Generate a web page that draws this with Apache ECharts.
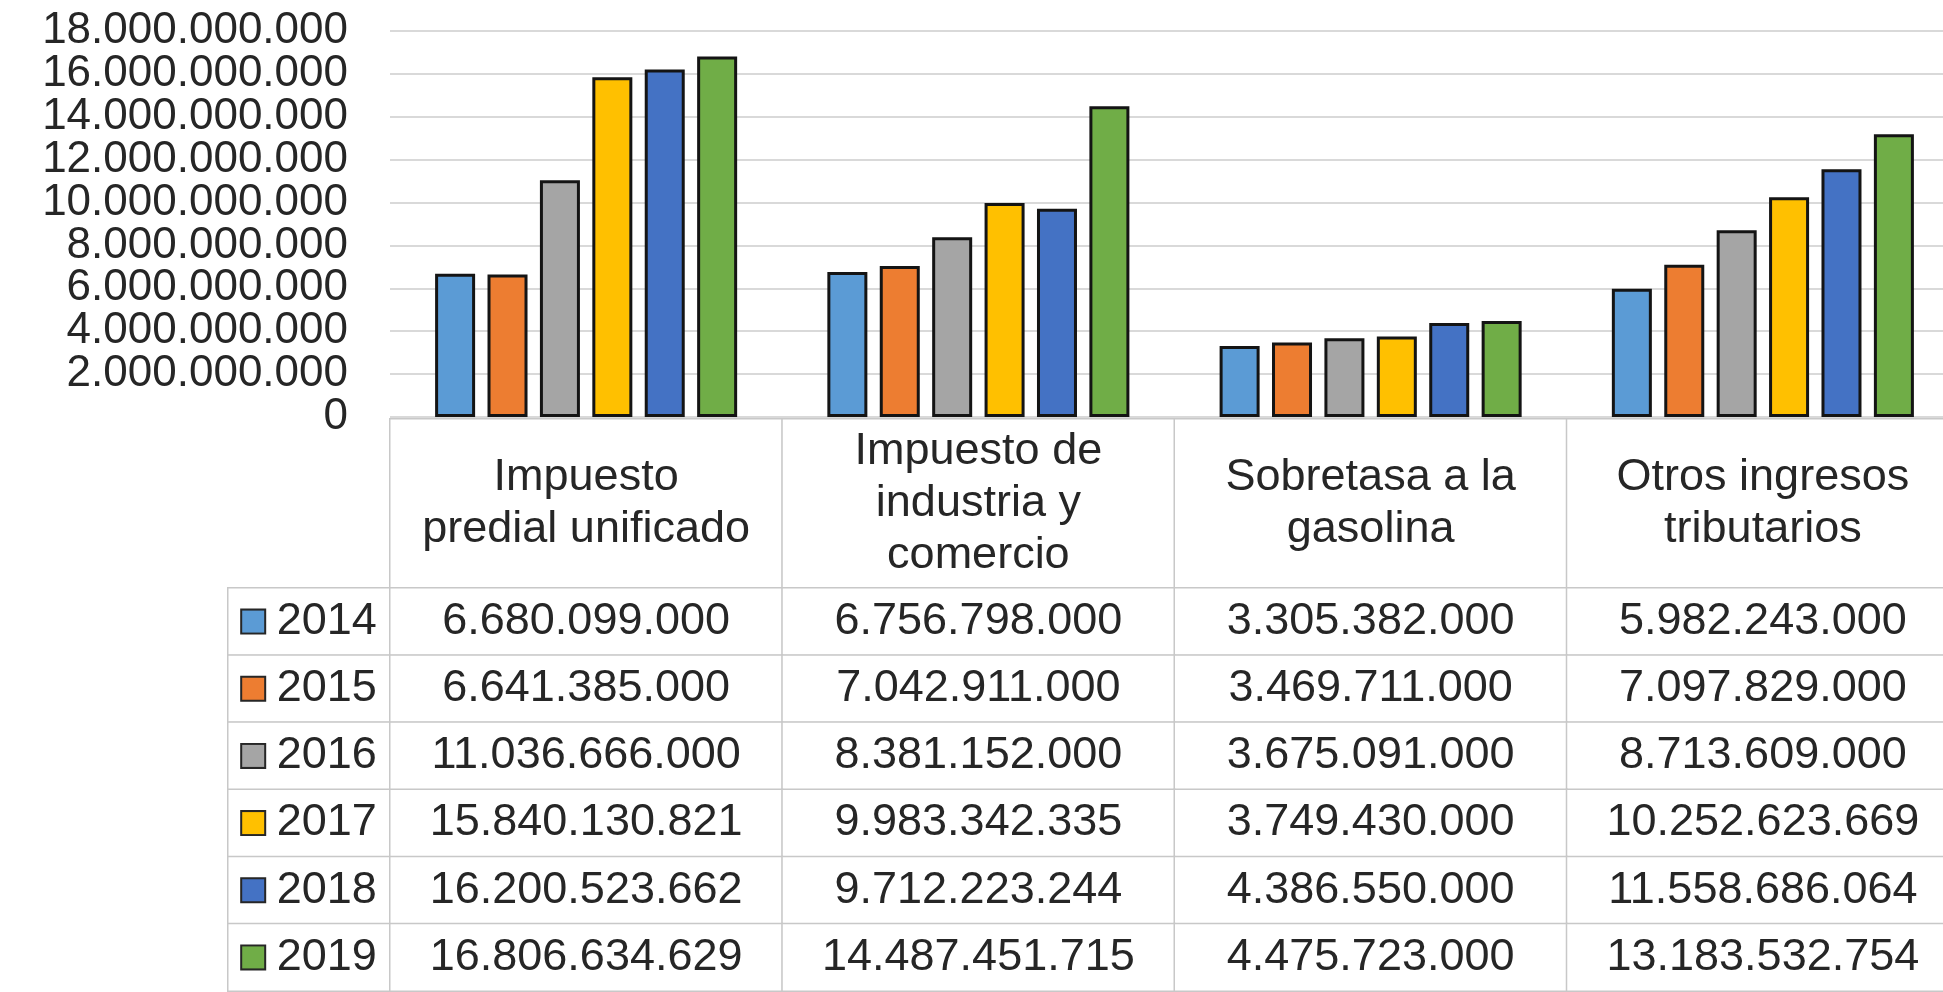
<!DOCTYPE html>
<html>
<head>
<meta charset="utf-8">
<script src="https://cdn.jsdelivr.net/npm/echarts@6/dist/echarts.min.js"></script>
<style>
  html, body { margin: 0; padding: 0; background: #fff; }
  #main { width: 1943px; height: 992px; }
</style>
</head>
<body>
<div id="main"></div>
<script>
// categorias (con saltos de linea como en la tabla de Excel)
var categories = ['Impuesto\npredial unificado', 'Impuesto de\nindustria y\ncomercio', 'Sobretasa a la\ngasolina', 'Otros ingresos\ntributarios'];
var years = ['2014', '2015', '2016', '2017', '2018', '2019'];
var colors = ['#5B9BD5', '#ED7D31', '#A5A5A5', '#FFC000', '#4472C4', '#70AD47'];

var v2014 = [6680099000, 6756798000, 3305382000, 5982243000];
var v2015 = [6641385000, 7042911000, 3469711000, 7097829000];
var v2016 = [11036666000, 8381152000, 3675091000, 8713609000];
var v2017 = [15840130821, 9983342335, 3749430000, 10252623669];
var v2018 = [16200523662, 9712223244, 4386550000, 11558686064];
var v2019 = [16806634629, 14487451715, 4475723000, 13183532754];
var values = [v2014, v2015, v2016, v2017, v2018, v2019];

// etiquetas del eje Y (de abajo hacia arriba)
var yTickLabels = ['0', '2.000.000.000', '4.000.000.000', '6.000.000.000', '8.000.000.000',
    '10.000.000.000', '12.000.000.000', '14.000.000.000', '16.000.000.000', '18.000.000.000'];
var yMax = 18000000000;
var yStep = 2000000000;

var font = 'Liberation Sans, Arial, sans-serif';
var textColor = '#262626';
var lineColor = '#c8c8c8';

function fmt(v) {
    return String(v).replace(/\B(?=(\d{3})+(?!\d))/g, '.');
}

var chart = echarts.init(document.getElementById('main'));

// series de barras
var series = [];
for (var j = 0; j < years.length; j++) {
    series.push({
        type: 'bar',
        name: years[j],
        xAxisIndex: 0,
        yAxisIndex: 0,
        data: values[j],
        barGap: '31%',
        barCategoryGap: '23%',
        itemStyle: {color: colors[j], borderColor: '#141414', borderWidth: 3},
        silent: true
    });
}

// encabezado de la tabla
series.push({
    type: 'heatmap',
    xAxisIndex: 1,
    yAxisIndex: 1,
    data: categories.map(function (c, i) { return [i, 0, i]; }),
    itemStyle: {color: '#fff', borderColor: lineColor, borderWidth: 1.5},
    label: {
        show: true,
        formatter: function (p) { return categories[p.value[0]]; },
        fontSize: 45,
        lineHeight: 52,
        color: textColor,
        fontFamily: font
    },
    silent: true
});

// columna de leyenda
var rich = {t: {fontSize: 45, color: textColor, fontFamily: font}};
for (var j = 0; j < years.length; j++) {
    rich['s' + j] = {width: 22, height: 22, backgroundColor: colors[j], borderColor: '#262626', borderWidth: 2};
}
series.push({
    type: 'heatmap',
    xAxisIndex: 2,
    yAxisIndex: 2,
    data: years.map(function (y, j) { return [0, j, j]; }),
    itemStyle: {color: '#fff', borderColor: lineColor, borderWidth: 1.5},
    label: {
        show: true,
        fontSize: 45,
        fontFamily: font,
        formatter: function (p) { return '{s' + p.value[1] + '|} {t|' + years[p.value[1]] + '}'; },
        rich: rich
    },
    silent: true
});

// valores de la tabla
var cells = [];
for (var j = 0; j < years.length; j++) {
    for (var i = 0; i < categories.length; i++) {
        cells.push([i, j, values[j][i]]);
    }
}
series.push({
    type: 'heatmap',
    xAxisIndex: 3,
    yAxisIndex: 3,
    data: cells,
    itemStyle: {color: '#fff', borderColor: lineColor, borderWidth: 1.5},
    label: {
        show: true,
        formatter: function (p) { return fmt(p.value[2]); },
        fontSize: 45,
        color: textColor,
        fontFamily: font
    },
    silent: true
});

var option = {
    backgroundColor: '#fff',
    animation: false,
    textStyle: {fontFamily: font},
    grid: [
        {left: 390, right: -16, top: 31, height: 386, outerBoundsMode: 'none'},
        {left: 390, right: -16, top: 419, height: 169, outerBoundsMode: 'none'},
        {left: 228, width: 163, top: 588, height: 403, outerBoundsMode: 'none'},
        {left: 390, right: -16, top: 588, height: 403, outerBoundsMode: 'none'}
    ],
    xAxis: [
        {type: 'category', gridIndex: 0, data: categories, axisLabel: {show: false}, axisTick: {show: false}, axisLine: {show: false}},
        {type: 'category', gridIndex: 1, data: categories, show: false},
        {type: 'category', gridIndex: 2, data: ['año'], show: false},
        {type: 'category', gridIndex: 3, data: categories, show: false}
    ],
    yAxis: [
        {
            type: 'value', gridIndex: 0, min: 0, max: yMax, interval: yStep,
            axisLine: {show: false}, axisTick: {show: false}, axisLabel: {show: false},
            splitLine: {lineStyle: {color: '#d9d9d9', width: 2}}
        },
        {type: 'category', gridIndex: 1, data: [''], show: false},
        {type: 'category', gridIndex: 2, data: years, inverse: true, show: false},
        {type: 'category', gridIndex: 3, data: years, inverse: true, show: false},
        {
            // eje solo para las etiquetas (todas visibles, como en Excel)
            type: 'category', gridIndex: 0, position: 'left', data: yTickLabels, boundaryGap: false,
            axisLine: {show: false}, axisTick: {show: false}, splitLine: {show: false},
            axisLabel: {interval: 0, fontSize: 44, color: textColor, margin: 42, hideOverlap: false}
        }
    ],
    series: series
};

chart.setOption(option);
</script>
</body>
</html>
